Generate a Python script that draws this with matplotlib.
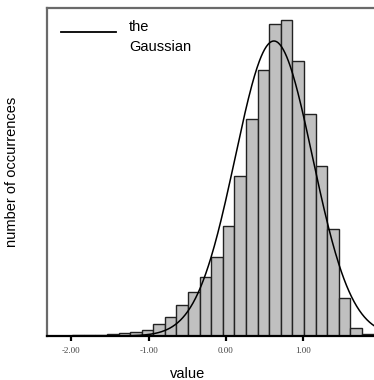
import numpy as np
from matplotlib import pyplot as plt

# histogram bins (left edges) and counts
BIN_WIDTH = 0.15
BIN_LEFT = [-2.29, -2.14, -1.99, -1.84, -1.69, -1.54, -1.39, -1.24, -1.09, -0.94,
            -0.79, -0.64, -0.49, -0.34, -0.19, -0.04, 0.11, 0.26, 0.41, 0.56,
            0.71, 0.86, 1.01, 1.16, 1.31, 1.46, 1.61, 1.76]
COUNTS = [1, 1, 2, 4, 4, 5, 8, 11, 18, 36,
          56, 94, 131, 176, 237, 329, 479, 650, 797, 935,
          947, 824, 667, 509, 322, 113, 25, 5]

# fitted gaussian
GAUSS_MU = 0.62
GAUSS_SIGMA = 0.50
GAUSS_PEAK = 885

X_TICKS = [-2.0, -1.0, 0.0, 1.0]
X_TICK_LABELS = ["-2.00", "-1.00", "0.00", "1.00"]

fig = plt.figure(figsize=(3.74, 3.80), dpi=100)
ax = fig.add_axes([47 / 374, 1 - 336 / 380, 1 - 47 / 374, 328 / 380])

ax.bar(BIN_LEFT, COUNTS, width=BIN_WIDTH, align="edge", color="#c0c0c0",
       edgecolor="#222222", linewidth=1.0, zorder=2)

xs = np.linspace(-2.4, 2.0, 400)
ys = GAUSS_PEAK * np.exp(-0.5 * ((xs - GAUSS_MU) / GAUSS_SIGMA) ** 2)
ax.plot(xs, ys, color="black", linewidth=1.1, zorder=3)

ax.set_xlim(-2.315, 1.915)
ax.set_ylim(0, 984)

ax.spines["right"].set_visible(False)
for s in ["left", "top"]:
    ax.spines[s].set_color("#6a6a6a")
    ax.spines[s].set_linewidth(1.6)
ax.spines["bottom"].set_color("black")
ax.spines["bottom"].set_linewidth(1.6)
ax.spines["bottom"].set_zorder(4)

ax.set_yticks([])
ax.set_xticks(X_TICKS)
ax.set_xticklabels(X_TICK_LABELS, fontfamily="Liberation Serif", fontsize=6.5, color="#444444")
ax.tick_params(axis="x", direction="out", length=3.6, width=1.6, color="black", pad=4)

ax.set_xlabel("value", fontfamily="Liberation Sans", fontsize=10.5)
ax.xaxis.set_label_coords((187.5 - 47) / 327, -31 / 328)
ax.set_ylabel("number of occurrences", fontfamily="Liberation Sans", fontsize=10.5)
ax.yaxis.set_label_coords(-28 / 327, 0.5)

# legend drawn by hand: line sits next to the first text line
ax.plot([14 / 327, 69 / 327], [1 - 24 / 328, 1 - 24 / 328], color="black",
        linewidth=1.3, transform=ax.transAxes)
ax.text(82 / 327, 1 - 12 / 328, "the\nGaussian", transform=ax.transAxes,
        ha="left", va="top", linespacing=1.55, fontfamily="Liberation Sans", fontsize=10.5)

plt.savefig("out.png", dpi=100)
